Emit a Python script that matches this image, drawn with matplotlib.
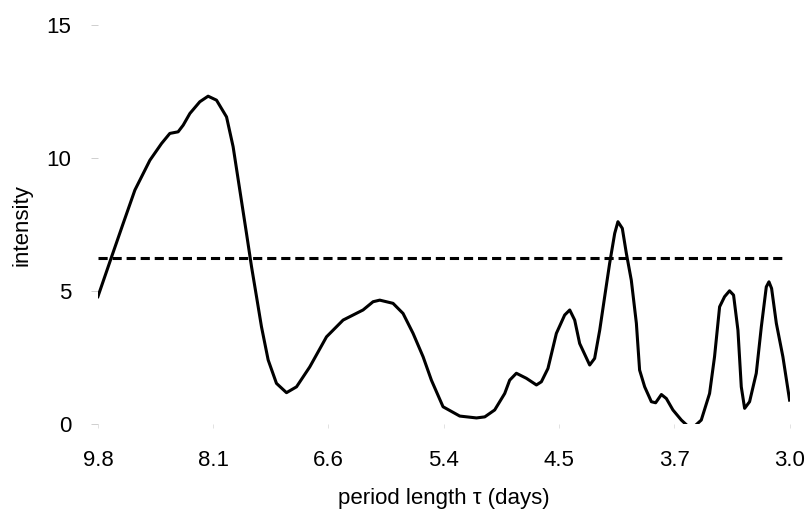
import matplotlib
matplotlib.use("Agg")
import matplotlib.pyplot as plt

plt.rcParams['font.family'] = ['Liberation Sans', 'DejaVu Sans']

# position along the axis in tick steps (0 = 9.8 days ... 6 = 3.0 days)
position = [0.00, 0.119, 0.219, 0.321, 0.451, 0.552, 0.624, 0.696, 0.740, 0.798,
            0.884, 0.956, 1.029, 1.116, 1.173, 1.231, 1.289, 1.333, 1.376, 1.419,
            1.477, 1.549, 1.636, 1.723, 1.838, 1.983, 2.127, 2.300, 2.387, 2.445,
            2.560, 2.647, 2.734, 2.821, 2.893, 2.994, 3.139, 3.284, 3.356, 3.442,
            3.529, 3.572, 3.630, 3.717, 3.804, 3.847, 3.904, 3.977, 4.049, 4.093,
            4.136, 4.179, 4.266, 4.309, 4.353, 4.396, 4.439, 4.483, 4.511, 4.549,
            4.584, 4.627, 4.671, 4.699, 4.743, 4.801, 4.838, 4.888, 4.931, 4.988,
            5.061, 5.118, 5.176, 5.234, 5.306, 5.349, 5.393, 5.436, 5.479, 5.514,
            5.552, 5.581, 5.610, 5.653, 5.711, 5.755, 5.798, 5.821, 5.844, 5.885,
            5.942, 6.000]
intensity = [4.79, 6.29, 7.54, 8.80, 9.92, 10.55, 10.93, 10.99, 11.24, 11.68,
             12.12, 12.33, 12.18, 11.55, 10.43, 8.80, 7.17, 5.91, 4.79, 3.66,
             2.41, 1.53, 1.18, 1.40, 2.15, 3.28, 3.91, 4.29, 4.60, 4.66,
             4.54, 4.16, 3.41, 2.53, 1.65, 0.65, 0.30, 0.23, 0.27, 0.53,
             1.15, 1.65, 1.91, 1.72, 1.47, 1.59, 2.09, 3.41, 4.10, 4.29,
             3.91, 3.03, 2.22, 2.47, 3.53, 4.79, 6.04, 7.17, 7.61, 7.36,
             6.42, 5.41, 3.79, 2.03, 1.40, 0.84, 0.80, 1.11, 0.96, 0.53,
             0.15, -0.08, -0.08, 0.15, 1.15, 2.53, 4.41, 4.79, 5.01, 4.85,
             3.53, 1.40, 0.59, 0.84, 1.91, 3.66, 5.16, 5.35, 5.10, 3.79,
             2.53, 0.90]

threshold = 6.25
threshold_span = [0.0, 5.94]

tick_labels = ['9.8', '8.1', '6.6', '5.4', '4.5', '3.7', '3.0']
y_ticks = [0, 5, 10, 15]

fig = plt.figure(figsize=(8.09, 5.14), dpi=100)
ax = fig.add_axes([0.121, 0.175, 0.855, 0.776])

ax.plot(position, intensity, color='black', lw=2.2, solid_joinstyle='round')
ax.plot(threshold_span, [threshold, threshold], color='black', lw=2.2,
        linestyle=(0, (3, 1.6)))
ax.axhline(0, color='#dddddd', lw=0.6, linestyle=(0, (1, 8)), zorder=0)

ax.set_xlim(0, 6)
ax.set_ylim(0, 15)
ax.set_xticks(range(len(tick_labels)))
ax.set_xticklabels(tick_labels)
ax.set_yticks(y_ticks)

for s in ax.spines.values():
    s.set_visible(False)
ax.tick_params(axis='y', length=5, width=0.6, color='#c8c8c8', pad=14, labelsize=16)
ax.tick_params(axis='x', length=3, width=0.6, color='#dddddd', pad=16, labelsize=16)

ax.set_xlabel('period length τ (days)', fontsize=16, labelpad=12)
ax.set_ylabel('intensity', fontsize=16, labelpad=10)

fig.savefig('out.png', dpi=100)
